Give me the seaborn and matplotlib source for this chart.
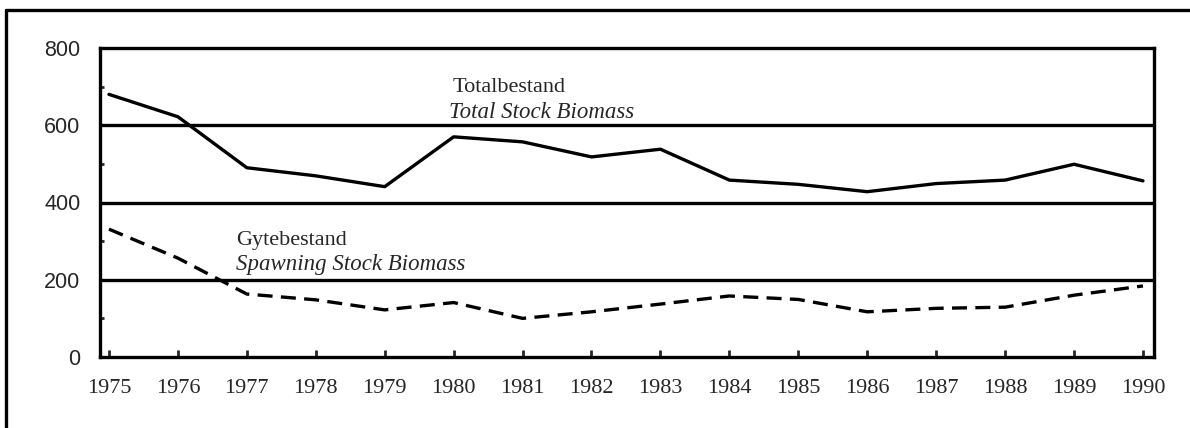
import matplotlib
matplotlib.use("Agg")
import matplotlib.pyplot as plt
import seaborn as sns
import pandas as pd
from matplotlib.lines import Line2D

years = list(range(1975, 1991))
total_stock = [680, 622, 490, 469, 441, 570, 557, 518, 538, 458, 447, 428, 449, 458, 499, 456]
spawning_stock = [331, 256, 163, 148, 122, 141, 100, 117, 137, 158, 149, 117, 126, 129, 160, 184]
y_ticks = [0, 200, 400, 600, 800]
label_total = ["Totalbestand", "Total Stock Biomass"]
label_spawn = ["Gytebestand", "Spawning Stock Biomass"]

sns.set_style("white")
plt.rcParams['font.family'] = ['Liberation Serif', 'DejaVu Serif']

df = pd.DataFrame({"year": years + years,
                   "value": total_stock + spawning_stock,
                   "series": ["total"] * len(years) + ["spawn"] * len(years)})

fig = plt.figure(figsize=(11.9, 4.28), dpi=100)
ax = fig.add_axes([100 / 1190, 1 - 357 / 428, (1154 - 100) / 1190, (357 - 48) / 428])

for yv in y_ticks[1:4]:
    ax.axhline(yv, color="black", lw=2.4, zorder=1)

sns.lineplot(data=df[df.series == "total"], x="year", y="value", ax=ax,
             color="black", lw=2.4, zorder=3)
sns.lineplot(data=df[df.series == "spawn"], x="year", y="value", ax=ax,
             color="black", lw=2.4, zorder=3, dashes=False, linestyle=(0, (4.5, 2.5)))

ax.set_xlim(1974.87, 1990.16)
ax.set_ylim(0, 800)
ax.set_xticks(years)
ax.set_xticklabels([str(y) for y in years], fontsize=16, family='Liberation Serif')
ax.set_yticks(y_ticks)
ax.set_yticklabels([str(v) for v in y_ticks], fontsize=15.5, family='Liberation Sans')
ax.set_yticks([100, 300, 500, 700], minor=True)
ax.tick_params(axis='x', direction='in', length=5, width=2, pad=16, bottom=True)
ax.tick_params(axis='y', which='major', direction='in', length=0, pad=14, left=True)
ax.tick_params(axis='y', which='minor', direction='in', length=3, width=2, left=True)
ax.set_xlabel("")
ax.set_ylabel("")
for s in ax.spines.values():
    s.set_color("black")
    s.set_linewidth(2.4)

ax.text(1979.99, 686, label_total[0], fontsize=16, ha='left', va='baseline')
ax.text(1979.93, 619, label_total[1], fontsize=16.5, ha='left', va='baseline', style='italic')
ax.text(1976.85, 290, label_spawn[0], fontsize=16, ha='left', va='baseline')
ax.text(1976.84, 225, label_spawn[1], fontsize=16.5, ha='left', va='baseline', style='italic')

# outer frame
fig.add_artist(Line2D([5.5 / 1190, 5.5 / 1190], [0, 1 - 10 / 428], color='black', lw=2.4,
                      transform=fig.transFigure))
fig.add_artist(Line2D([5.5 / 1190, 1], [1 - 10 / 428, 1 - 10 / 428], color='black', lw=2.4,
                      transform=fig.transFigure))

fig.savefig("out.png", dpi=100)
